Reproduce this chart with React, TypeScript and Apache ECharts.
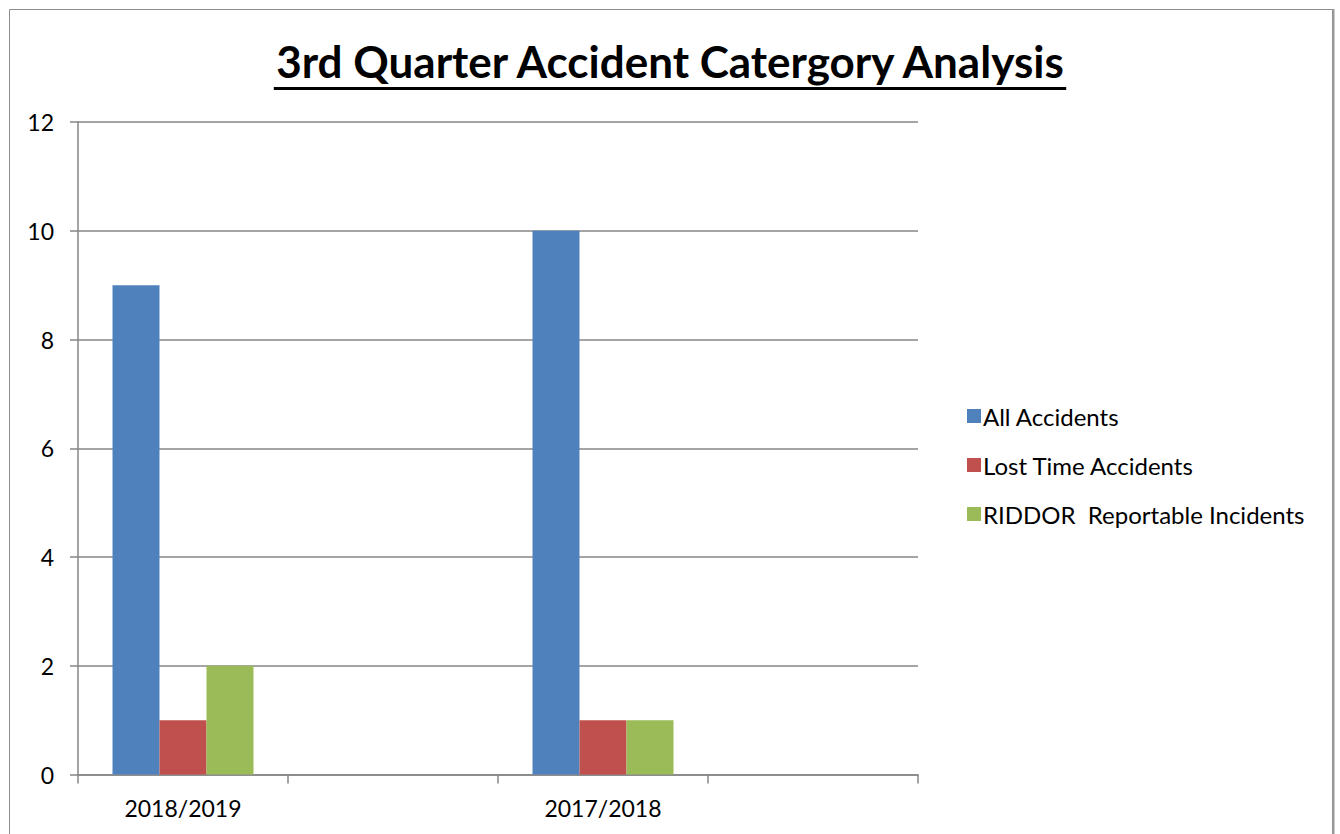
import React, { useEffect, useRef } from "react";
import * as echarts from "echarts";

const categories = ["2018/2019", "", "2017/2018", ""];
const allAccidents = [9, null, 10, null];
const lostTimeAccidents = [1, null, 1, null];
const riddorIncidents = [2, null, 1, null];
const seriesNames = ["All Accidents", "Lost Time Accidents", "RIDDOR  Reportable Incidents"];
const colors = ["#4F81BD", "#C0504D", "#9BBB59"];
const titleText = "3rd Quarter Accident Catergory Analysis";

const FONT = "Lato, 'Open Sans', sans-serif";

function measure(text: string, font: string): number {
  const c = document.createElement("canvas");
  const ctx = c.getContext("2d");
  if (!ctx) return text.length * 20;
  ctx.font = font;
  return ctx.measureText(text).width;
}

export default function App() {
  const ref = useRef<HTMLDivElement>(null);
  useEffect(() => {
    if (!ref.current) return;
    const chart = echarts.init(ref.current, undefined, { renderer: "svg" });
    const titleSize = 44;
    const tw = measure(titleText, `bold ${titleSize}px Lato`);
    const cx = 670;
    chart.setOption({
      animation: false,
      backgroundColor: "#ffffff",
      graphic: [
        {
          type: "rect",
          shape: { x: 9.5, y: 9.5, width: 1323, height: 900 },
          style: { fill: "none", stroke: "#8c8c8c", lineWidth: 1 },
          silent: true,
        },
        {
          type: "line",
          shape: { x1: 1333.5, y1: 9, x2: 1333.5, y2: 900 },
          style: { stroke: "#9a9a9a", lineWidth: 2 },
          silent: true,
        },
        {
          type: "text",
          x: cx,
          y: 61,
          style: {
            text: titleText,
            font: `bold ${titleSize}px Lato`,
            fill: "#000000",
            align: "center",
            verticalAlign: "middle",
          },
        },
        {
          type: "rect",
          shape: { x: cx - tw / 2, y: 87, width: tw, height: 3 },
          style: { fill: "#000000" },
          silent: true,
        },
      ],
      legend: {
        orient: "vertical",
        left: 962,
        top: 398,
        itemWidth: 14,
        itemHeight: 14,
        itemGap: 23,
        icon: "rect",
        data: seriesNames,
        textStyle: { fontFamily: FONT, fontSize: 24, color: "#000", lineHeight: 26, padding: [0, 0, 0, -3] },
      },
      grid: { left: 78, right: 422, top: 122, bottom: 59.5, containLabel: false },
      xAxis: {
        type: "category",
        data: categories,
        boundaryGap: true,
        axisLine: { lineStyle: { color: "#868686", width: 1.5 } },
        axisTick: { show: true, length: 9, interval: 0, lineStyle: { color: "#868686", width: 1.5 } },
        axisLabel: { interval: 0, fontFamily: FONT, fontSize: 23, color: "#000", margin: 22 },
      },
      yAxis: {
        type: "value",
        min: 0,
        max: 12,
        interval: 2,
        axisLine: { show: true, lineStyle: { color: "#868686", width: 1.5 } },
        axisTick: { show: true, length: 8, lineStyle: { color: "#868686", width: 1.5 } },
        axisLabel: { fontFamily: FONT, fontSize: 23, color: "#000", margin: 24 },
        splitLine: { show: true, lineStyle: { color: "#868686", width: 1.5 } },
      },
      series: [
        { name: seriesNames[0], type: "bar", data: allAccidents, barWidth: 47, barGap: "0%", itemStyle: { color: colors[0] } },
        { name: seriesNames[1], type: "bar", data: lostTimeAccidents, barWidth: 47, barGap: "0%", itemStyle: { color: colors[1] } },
        { name: seriesNames[2], type: "bar", data: riddorIncidents, barWidth: 47, barGap: "0%", itemStyle: { color: colors[2] } },
      ],
    });
    return () => chart.dispose();
  }, []);
  return (
    <div
      ref={ref}
      style={{ position: "fixed", left: 0, top: 0, width: 1340, height: 834, background: "#fff" }}
    />
  );
}
